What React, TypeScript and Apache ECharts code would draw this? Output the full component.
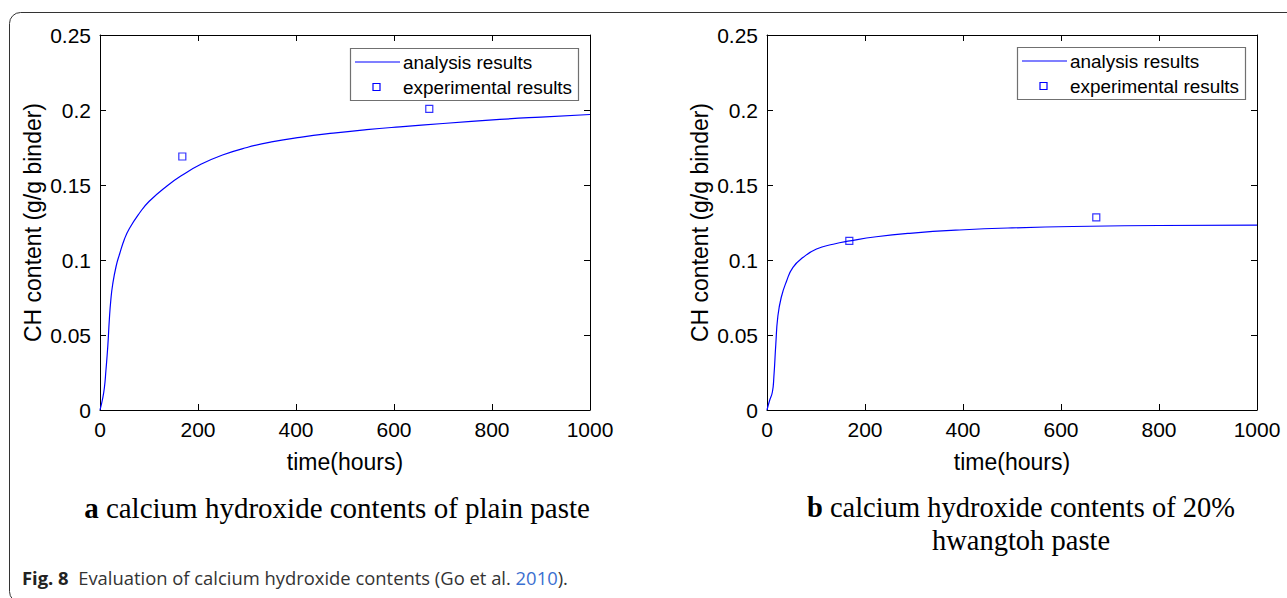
import React, { useEffect, useRef } from "react";
import * as echarts from "echarts";

// Hydration time (hours) and CH content (g/g binder), analysis curves
const hoursPlain = [0, 5, 9, 12, 16, 19, 22, 26, 33, 40, 50, 60, 80, 100, 136, 170, 204, 250, 300, 350, 408, 476, 544, 612, 700, 816, 900, 1000];
const chPlain = [0, 0.007, 0.015, 0.026, 0.043, 0.06, 0.073, 0.084, 0.096, 0.104, 0.114, 0.121, 0.131, 0.139, 0.1492, 0.157, 0.1635, 0.17, 0.175, 0.1787, 0.1818, 0.1846, 0.1869, 0.1888, 0.191, 0.1937, 0.1953, 0.197];

const hoursHwangtoh = [0, 5, 11, 14, 18, 22, 29, 40, 53, 74, 101, 135, 169, 223, 291, 393, 500, 659, 800, 1000];
const chHwangtoh = [0, 0.006, 0.012, 0.022, 0.044, 0.062, 0.075, 0.086, 0.0951, 0.1018, 0.1073, 0.1105, 0.1127, 0.1155, 0.1178, 0.12, 0.1214, 0.1225, 0.123, 0.1233];

// Measured values at 7 and 28 days
const expHours = [168, 672];
const expPlain = [0.169, 0.2007];
const expHwangtoh = [0.1127, 0.1284];

const xTicks = { min: 0, max: 1000, interval: 200 };
const yTicks = { min: 0, max: 0.25, interval: 0.05 };

const seriesNames = ["analysis results", "experimental results"];
const captionA = "calcium hydroxide contents of plain paste";
const captionB = ["calcium hydroxide contents of 20%", "hwangtoh paste"];

const BLUE = "#0000ff";
const SANS = "'Liberation Sans', Arial, Helvetica, sans-serif";
const SERIF = "'Liberation Serif', 'Times New Roman', serif";
const NOTE = "'Open Sans', 'Noto Sans', sans-serif";

const pairs = (xs: number[], ys: number[]) => xs.map((x, i) => [x, ys[i]]);

function axesFor(gridIndex: number) {
  const common = {
    gridIndex,
    type: "value" as const,
    splitLine: { show: false },
    axisLine: { show: true, onZero: false, lineStyle: { color: "#000", width: 1 } },
    axisTick: { show: true, inside: true, length: 6, lineStyle: { color: "#000", width: 1 } },
  };
  const x = [
    {
      ...common,
      ...xTicks,
      position: "bottom",
      name: "time(hours)",
      nameLocation: "middle",
      nameGap: 40,
      nameTextStyle: { fontFamily: SANS, fontSize: 23, color: "#000" },
      axisLabel: {
        fontFamily: SANS,
        fontSize: 21,
        color: "#000",
        margin: 9,
        formatter: (v: number) => String(v),
      },
    },
    { ...common, ...xTicks, position: "top", axisLabel: { show: false } },
  ];
  const y = [
    {
      ...common,
      ...yTicks,
      position: "left",
      name: "CH content (g/g binder)",
      nameLocation: "middle",
      nameGap: 56,
      nameTextStyle: { fontFamily: SANS, fontSize: 23, color: "#000" },
      axisLabel: {
        fontFamily: SANS,
        fontSize: 21,
        color: "#000",
        margin: 9,
        formatter: (v: number) => String(+v.toFixed(2)),
      },
    },
    { ...common, ...yTicks, position: "right", axisLabel: { show: false } },
  ];
  return { x, y };
}

function legendBox(left: number, top: number) {
  const w = 228;
  const h = 52;
  return {
    type: "group",
    x: left,
    y: top,
    children: [
      { type: "rect", shape: { x: 0.5, y: 0.5, width: w, height: h }, style: { fill: "#fff", stroke: "#707070", lineWidth: 1.2 } },
      { type: "line", shape: { x1: 5, y1: 14, x2: 50, y2: 14 }, style: { stroke: BLUE, lineWidth: 1.2 } },
      {
        type: "text",
        x: 53,
        y: 14,
        style: { text: seriesNames[0], font: `18.9px ${SANS}`, fill: "#000", textVerticalAlign: "middle" },
      },
      { type: "rect", shape: { x: 23, y: 35.5, width: 7, height: 7 }, style: { fill: "none", stroke: BLUE, lineWidth: 1.2 } },
      {
        type: "text",
        x: 53,
        y: 39,
        style: { text: seriesNames[1], font: `18.9px ${SANS}`, fill: "#000", textVerticalAlign: "middle" },
      },
    ],
  };
}

export default function App() {
  const ref = useRef<HTMLDivElement>(null);

  useEffect(() => {
    if (!ref.current) return;
    const chart = echarts.init(ref.current, undefined, { renderer: "svg" });

    const a = axesFor(0);
    const b = axesFor(1);

    const lineSeries = (xi: number, data: number[][]) => ({
      name: seriesNames[0],
      type: "line",
      xAxisIndex: xi,
      yAxisIndex: xi,
      data,
      showSymbol: false,
      smooth: 0.5,
      lineStyle: { color: BLUE, width: 1.2 },
      itemStyle: { color: BLUE },
      z: 3,
    });
    const pointSeries = (xi: number, data: number[][]) => ({
      name: seriesNames[1],
      type: "scatter",
      xAxisIndex: xi,
      yAxisIndex: xi,
      data,
      symbol: "rect",
      symbolSize: 7,
      itemStyle: { color: "rgba(0,0,0,0)", borderColor: BLUE, borderWidth: 1.2 },
      z: 4,
    });

    chart.setOption({
      animation: false,
      backgroundColor: "#fff",
      grid: [
        { left: 100, top: 35, width: 490, height: 375 },
        { left: 767, top: 35, width: 490, height: 375 },
      ],
      xAxis: [...a.x, ...b.x],
      yAxis: [...a.y, ...b.y],
      series: [
        lineSeries(0, pairs(hoursPlain, chPlain)),
        pointSeries(0, pairs(expHours, expPlain)),
        lineSeries(2, pairs(hoursHwangtoh, chHwangtoh)),
        pointSeries(2, pairs(expHours, expHwangtoh)),
      ],
      graphic: [
        {
          type: "rect",
          z: -10,
          silent: true,
          shape: { x: 9.5, y: 12.5, width: 1300, height: 590, r: 11 },
          style: { fill: "none", stroke: "#333", lineWidth: 1 },
        },
        { ...legendBox(350, 48), z: 50 },
        { ...legendBox(1017, 47), z: 50 },
        {
          type: "text",
          x: 337,
          y: 508,
          style: {
            text: `{b|a} ${captionA}`,
            font: `29px ${SERIF}`,
            fill: "#000",
            textAlign: "center",
            textVerticalAlign: "middle",
            rich: { b: { fontFamily: SERIF, fontSize: 29, fontWeight: "bold" } },
          },
        },
        {
          type: "text",
          x: 1021,
          y: 524,
          style: {
            text: `{b|b} ${captionB[0]}\n${captionB[1]}`,
            font: `28.5px ${SERIF}`,
            fill: "#000",
            lineHeight: 33,
            textAlign: "center",
            textVerticalAlign: "middle",
            rich: { b: { fontFamily: SERIF, fontSize: 28.5, fontWeight: "bold", lineHeight: 33 } },
          },
        },
        {
          type: "text",
          x: 22,
          y: 577,
          style: {
            text: "{f|Fig. 8}  Evaluation of calcium hydroxide contents (Go et al. {l|2010}).",
            font: `18.4px ${NOTE}`,
            fill: "#333",
            textVerticalAlign: "middle",
            rich: {
              f: { fontFamily: NOTE, fontSize: 18.4, fontWeight: "bold", fill: "#222" },
              l: { fontFamily: NOTE, fontSize: 18.4, fill: "#3b6fd0" },
            },
          },
        },
      ],
    });

    return () => chart.dispose();
  }, []);

  return (
    <div
      ref={ref}
      style={{ position: "fixed", left: 0, top: 0, width: 1287, height: 598 }}
    />
  );
}
